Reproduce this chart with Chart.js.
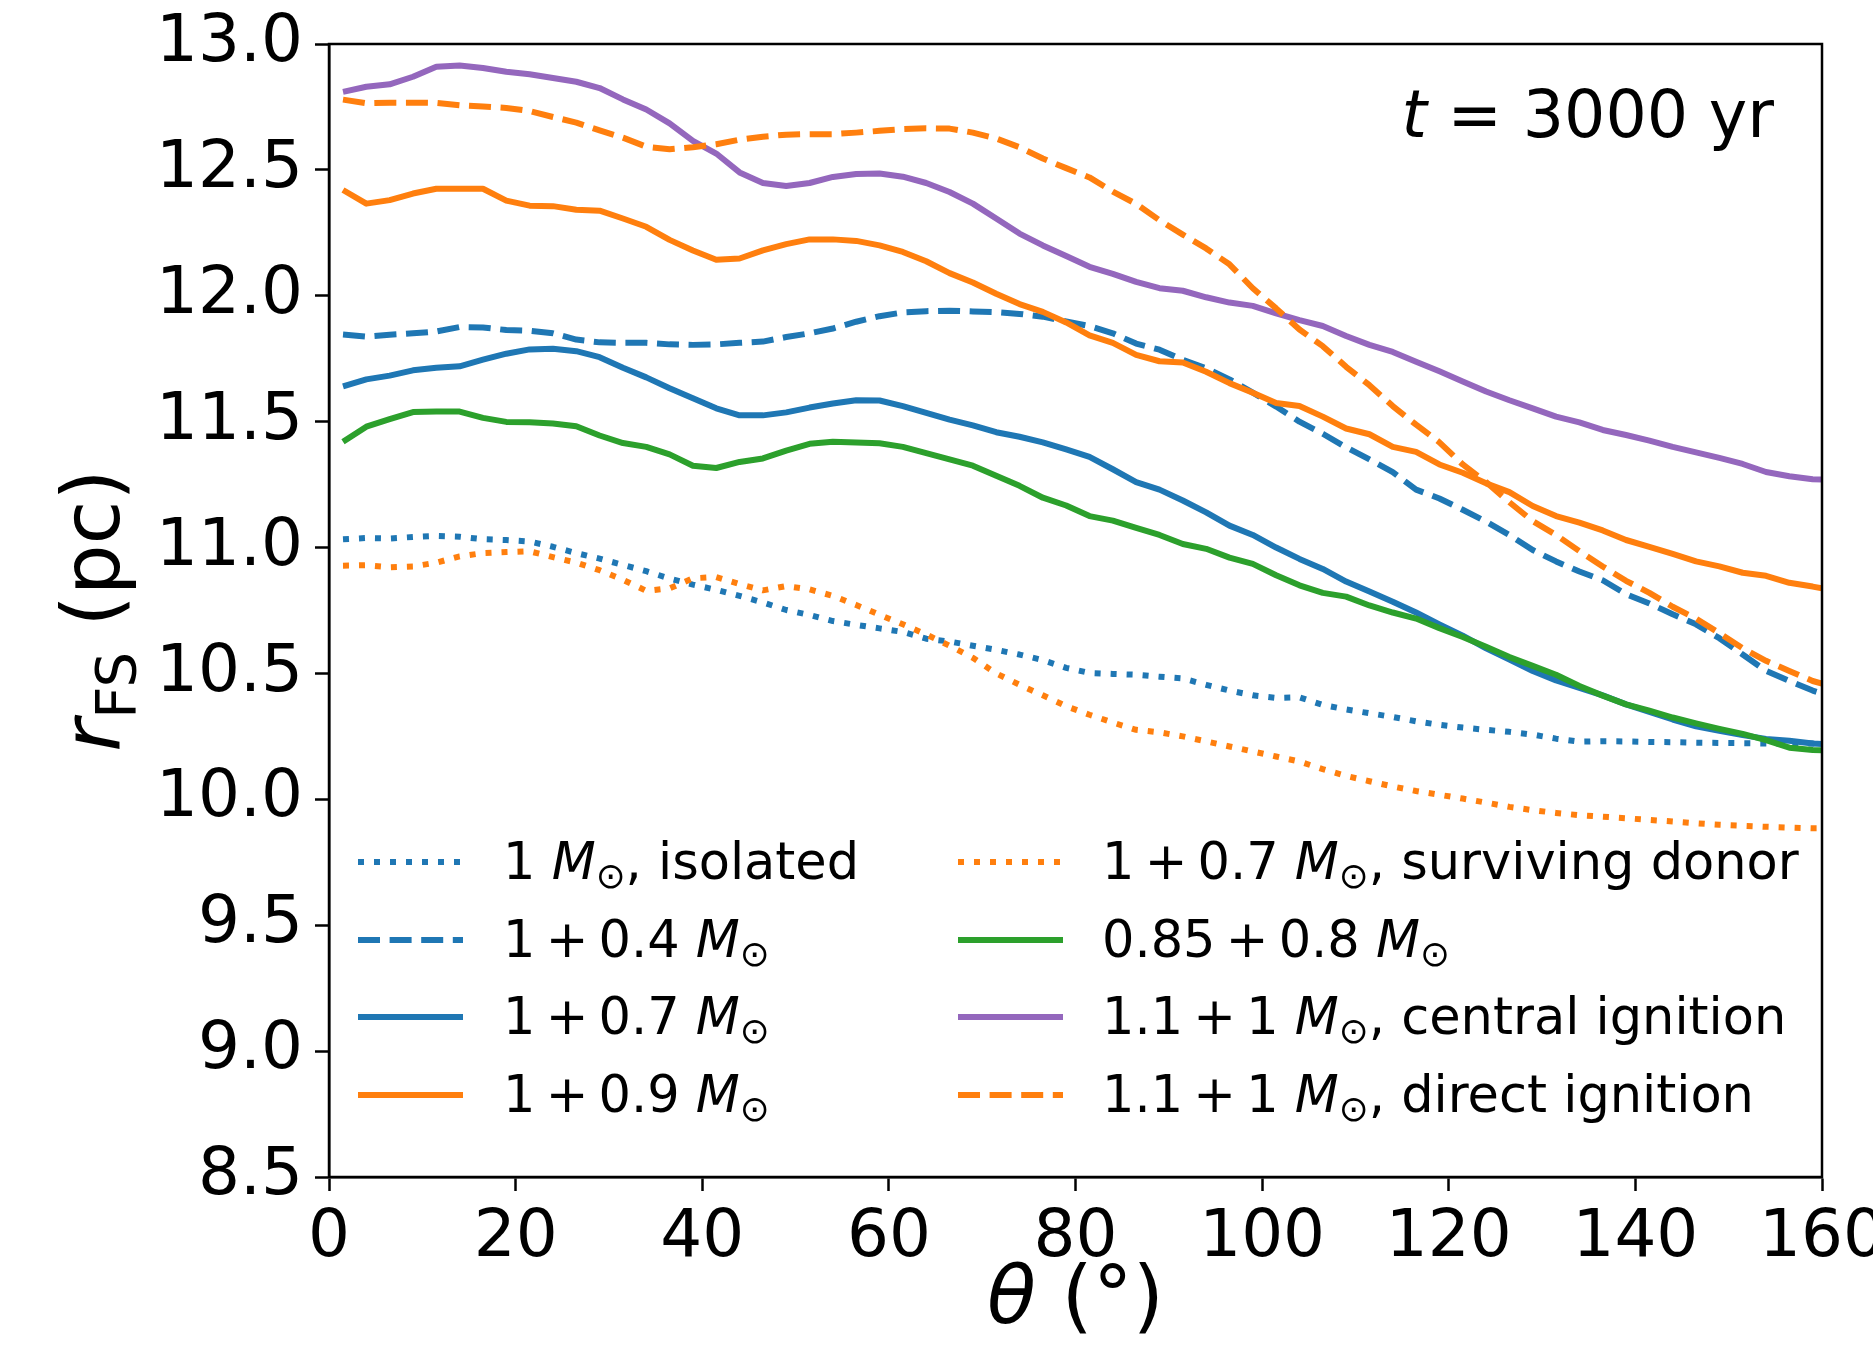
<!DOCTYPE html>
<html>
<head>
<meta charset="utf-8">
<script src="https://cdn.jsdelivr.net/npm/chart.js@4.4.1/dist/chart.umd.min.js"></script>
<style>
  html, body { margin: 0; padding: 0; background: #fff; }
</style>
</head>
<body>
<canvas id="myChart" width="1873" height="1370"></canvas>
<script>
// polar angle (deg)
const theta = [1.5, 4, 6.5, 9, 11.5, 14, 16.5, 19, 21.5, 24,
  26.5, 29, 31.5, 34, 36.5, 39, 41.5, 44, 46.5, 49,
  51.5, 54, 56.5, 59, 61.5, 64, 66.5, 69, 71.5, 74,
  76.5, 79, 81.5, 84, 86.5, 89, 91.5, 94, 96.5, 99,
  101.5, 104, 106.5, 109, 111.5, 114, 116.5, 119, 121.5, 124,
  126.5, 129, 131.5, 134, 136.5, 139, 141.5, 144, 146.5, 149,
  151.5, 154, 156.5, 159, 160];

// r_FS (pc) for each model
const isolated = [11.033, 11.038, 11.036, 11.042, 11.046, 11.043, 11.033, 11.03, 11.024, 11.003,
  10.978, 10.956, 10.931, 10.906, 10.877, 10.853, 10.832, 10.808, 10.782, 10.752,
  10.732, 10.708, 10.693, 10.679, 10.665, 10.638, 10.627, 10.61, 10.594, 10.575,
  10.553, 10.522, 10.502, 10.498, 10.495, 10.487, 10.48, 10.455, 10.432, 10.413,
  10.403, 10.405, 10.375, 10.357, 10.342, 10.327, 10.31, 10.296, 10.285, 10.276,
  10.268, 10.257, 10.241, 10.229, 10.231, 10.23, 10.228, 10.227, 10.225, 10.224,
  10.223, 10.222, 10.222, 10.222, 10.222];
const m04 = [11.846, 11.838, 11.845, 11.851, 11.858, 11.876, 11.874, 11.864, 11.861, 11.851,
  11.826, 11.815, 11.813, 11.813, 11.807, 11.805, 11.807, 11.813, 11.818, 11.836,
  11.851, 11.87, 11.897, 11.919, 11.934, 11.939, 11.941, 11.938, 11.935, 11.928,
  11.917, 11.898, 11.88, 11.851, 11.81, 11.786, 11.746, 11.712, 11.668, 11.615,
  11.56, 11.5, 11.452, 11.398, 11.35, 11.3, 11.23, 11.195, 11.15, 11.103,
  11.05, 10.99, 10.945, 10.905, 10.87, 10.815, 10.778, 10.735, 10.695, 10.64,
  10.575, 10.51, 10.47, 10.432, 10.42];
const m07 = [11.64, 11.668, 11.683, 11.704, 11.714, 11.72, 11.746, 11.77, 11.787, 11.79,
  11.78, 11.756, 11.714, 11.676, 11.633, 11.593, 11.553, 11.525, 11.525, 11.537,
  11.556, 11.572, 11.585, 11.584, 11.562, 11.535, 11.508, 11.485, 11.458, 11.44,
  11.418, 11.39, 11.36, 11.311, 11.26, 11.23, 11.187, 11.14, 11.087, 11.05,
  11.0, 10.955, 10.915, 10.865, 10.825, 10.785, 10.742, 10.695, 10.65, 10.6,
  10.555, 10.51, 10.472, 10.443, 10.413, 10.377, 10.347, 10.317, 10.29, 10.272,
  10.255, 10.24, 10.233, 10.222, 10.22];
const m09 = [12.42, 12.366, 12.38, 12.406, 12.425, 12.425, 12.425, 12.378, 12.358, 12.356,
  12.342, 12.338, 12.307, 12.274, 12.222, 12.18, 12.143, 12.148, 12.18, 12.205,
  12.224, 12.224, 12.218, 12.2, 12.174, 12.137, 12.09, 12.053, 12.008, 11.967,
  11.936, 11.894, 11.843, 11.813, 11.765, 11.74, 11.735, 11.698, 11.653, 11.615,
  11.574, 11.562, 11.52, 11.473, 11.45, 11.4, 11.38, 11.33, 11.297, 11.255,
  11.22, 11.165, 11.125, 11.099, 11.068, 11.03, 11.003, 10.975, 10.945, 10.925,
  10.9, 10.888, 10.86, 10.845, 10.838];
const donor = [10.928, 10.93, 10.922, 10.925, 10.94, 10.965, 10.978, 10.982, 10.985, 10.962,
  10.94, 10.91, 10.872, 10.828, 10.838, 10.878, 10.883, 10.855, 10.83, 10.847,
  10.834, 10.808, 10.772, 10.733, 10.695, 10.655, 10.61, 10.562, 10.5, 10.455,
  10.413, 10.37, 10.336, 10.305, 10.276, 10.266, 10.25, 10.23, 10.21, 10.19,
  10.17, 10.15, 10.12, 10.093, 10.072, 10.051, 10.033, 10.018, 10.003, 9.987,
  9.97, 9.957, 9.946, 9.937, 9.931, 9.925, 9.918, 9.912, 9.905, 9.899,
  9.895, 9.891, 9.888, 9.885, 9.885];
const m085 = [11.42, 11.48, 11.51, 11.538, 11.54, 11.54, 11.515, 11.499, 11.498, 11.493,
  11.482, 11.445, 11.415, 11.4, 11.37, 11.325, 11.316, 11.34, 11.354, 11.385,
  11.412, 11.42, 11.417, 11.414, 11.4, 11.375, 11.35, 11.325, 11.285, 11.245,
  11.198, 11.167, 11.125, 11.107, 11.078, 11.05, 11.014, 10.995, 10.96, 10.935,
  10.89, 10.85, 10.82, 10.805, 10.77, 10.742, 10.718, 10.68, 10.645, 10.606,
  10.565, 10.53, 10.495, 10.45, 10.412, 10.377, 10.352, 10.325, 10.302, 10.28,
  10.26, 10.235, 10.205, 10.196, 10.195];
const central = [12.81, 12.83, 12.84, 12.87, 12.91, 12.915, 12.905, 12.89, 12.88, 12.865,
  12.85, 12.825, 12.78, 12.74, 12.685, 12.615, 12.565, 12.49, 12.448, 12.436,
  12.448, 12.472, 12.484, 12.486, 12.473, 12.448, 12.412, 12.366, 12.307, 12.247,
  12.2, 12.158, 12.115, 12.087, 12.055, 12.03, 12.02, 11.994, 11.973, 11.96,
  11.93, 11.903, 11.88, 11.84, 11.805, 11.777, 11.738, 11.7, 11.66, 11.62,
  11.585, 11.553, 11.52, 11.497, 11.467, 11.447, 11.425, 11.4, 11.378, 11.356,
  11.332, 11.3, 11.283, 11.271, 11.27];
const direct = [12.779, 12.765, 12.767, 12.767, 12.766, 12.757, 12.752, 12.746, 12.734, 12.71,
  12.688, 12.657, 12.628, 12.592, 12.582, 12.59, 12.602, 12.62, 12.632, 12.64,
  12.642, 12.642, 12.648, 12.655, 12.662, 12.665, 12.664, 12.648, 12.625, 12.59,
  12.545, 12.507, 12.47, 12.414, 12.365, 12.3, 12.243, 12.188, 12.125, 12.03,
  11.95, 11.866, 11.8, 11.718, 11.645, 11.562, 11.488, 11.418, 11.33, 11.26,
  11.18, 11.105, 11.05, 10.986, 10.925, 10.868, 10.82, 10.765, 10.718, 10.66,
  10.6, 10.55, 10.51, 10.47, 10.46];

// legend text: before M, after M_sun (thin spaces round "+", like mathtext)
const labelPre = ['1 ', '1\u2009+\u20090.4 ', '1\u2009+\u20090.7 ', '1\u2009+\u20090.9 ',
  '1\u2009+\u20090.7 ', '0.85\u2009+\u20090.8 ', '1.1\u2009+\u20091 ', '1.1\u2009+\u20091 '];
const labelPost = [', isolated', '', '', '', ', surviving donor', '', ', central ignition', ', direct ignition'];

const BLUE = '#1f77b4', ORANGE = '#ff7f0e', GREEN = '#2ca02c', PURPLE = '#9467bd';
const LW = 6;
const DASH = [22, 9.6];
const DOT = [6, 10];
const FAM = '"DejaVu Sans"';

const series = [isolated, m04, m07, m09, donor, m085, central, direct];
const colors = [BLUE, BLUE, BLUE, ORANGE, ORANGE, GREEN, PURPLE, ORANGE];
const dashes = [DOT, DASH, [], [], DOT, [], [], DASH];

const datasets = series.map((s, i) => ({
  label: labelPre[i] + 'M' + labelPost[i],
  data: theta.map((t, j) => ({ x: t, y: s[j] })),
  borderColor: colors[i],
  borderWidth: LW,
  borderDash: dashes[i],
  borderCapStyle: 'butt',
  borderJoinStyle: 'round',
  pointRadius: 0,
  tension: 0,
  fill: false,
  order: series.length - i
}));

function fnt(size, italic) {
  return (italic ? 'italic ' : '') + size + 'px ' + FAM;
}

// draw a row of text pieces with their own fonts / vertical shifts
function drawRuns(ctx, runs, x, y, align) {
  let w = 0;
  runs.forEach(r => { ctx.font = r.font; r.w = ctx.measureText(r.text).width; w += r.w; });
  let cx = align === 'right' ? x - w : align === 'center' ? x - w / 2 : x;
  runs.forEach(r => {
    ctx.font = r.font;
    ctx.fillText(r.text, cx, y + (r.dy || 0));
    cx += r.w;
  });
}

const decor = {
  id: 'decor',
  afterDatasetsDraw(chart) {
    const ctx = chart.ctx;
    const a = chart.chartArea;
    ctx.save();
    // frame
    ctx.strokeStyle = '#000';
    ctx.lineWidth = 2.5;
    ctx.strokeRect(a.left, a.top, a.right - a.left, a.bottom - a.top);

    ctx.fillStyle = '#000';
    ctx.textBaseline = 'alphabetic';

    // annotation
    drawRuns(ctx, [
      { text: 't', font: fnt(65, true) },
      { text: ' = 3000 yr', font: fnt(65) }
    ], 1774, 137, 'right');

    // legend
    const LS = 51;
    const rowY = [862, 940, 1017, 1095];
    const colX = [358, 958];
    const textX = [503, 1102];
    chart.data.datasets.forEach((ds, i) => {
      const col = Math.floor(i / 4), row = i % 4;
      const y = rowY[row];
      ctx.beginPath();
      ctx.strokeStyle = ds.borderColor;
      ctx.lineWidth = LW;
      ctx.lineCap = 'butt';
      ctx.setLineDash(ds.borderDash);
      ctx.moveTo(colX[col], y);
      ctx.lineTo(colX[col] + 105, y);
      ctx.stroke();
      ctx.setLineDash([]);
      ctx.fillStyle = '#000';
      drawRuns(ctx, [
        { text: labelPre[i], font: fnt(LS) },
        { text: 'M', font: fnt(LS, true) },
        { text: '\u2299', font: fnt(LS * 0.7), dy: LS * 0.18 },
        { text: labelPost[i], font: fnt(LS) }
      ], textX[col], y + 17, 'left');
    });

    // axis titles
    const TS = 80;
    drawRuns(ctx, [
      { text: '\u03b8', font: fnt(TS, true) },
      { text: ' (\u00b0)', font: fnt(TS) }
    ], (a.left + a.right) / 2, 1323, 'center');

    ctx.translate(119, (a.top + a.bottom) / 2);
    ctx.rotate(-Math.PI / 2);
    drawRuns(ctx, [
      { text: 'r', font: fnt(TS, true) },
      { text: 'FS', font: fnt(TS * 0.7), dy: TS * 0.2 },
      { text: ' (pc)', font: fnt(TS) }
    ], 0, 0, 'center');
    ctx.restore();
  }
};

const config = {
  type: 'line',
  data: { datasets },
  options: {
    responsive: false,
    animation: false,
    devicePixelRatio: 1,
    layout: { padding: { left: 0, right: 51, top: 44, bottom: 0 } },
    plugins: { legend: { display: false }, tooltip: { enabled: false } },
    scales: {
      x: {
        type: 'linear', min: 0, max: 160,
        ticks: { stepSize: 20, autoSkip: false, maxRotation: 0, color: '#000', padding: 8,
          font: { family: 'DejaVu Sans', size: 66 } },
        grid: { drawOnChartArea: false, drawTicks: true, tickLength: 14, tickWidth: 2.5, tickColor: '#000' },
        border: { display: true, color: '#000', width: 2.5 },
        afterFit: s => { s.height = 193; s.paddingLeft = 0; s.paddingRight = 0; }
      },
      y: {
        min: 8.5, max: 13,
        ticks: { stepSize: 0.5, color: '#000', padding: 12,
          callback: v => v.toFixed(1),
          font: { family: 'DejaVu Sans', size: 66 } },
        grid: { drawOnChartArea: false, drawTicks: true, tickLength: 14, tickWidth: 2.5, tickColor: '#000' },
        border: { display: true, color: '#000', width: 2.5 },
        afterFit: s => { s.width = 329; s.paddingTop = 0; s.paddingBottom = 0; }
      }
    }
  },
  plugins: [decor]
};

const myChart = new Chart(document.getElementById('myChart'), config);
</script>
</body>
</html>
